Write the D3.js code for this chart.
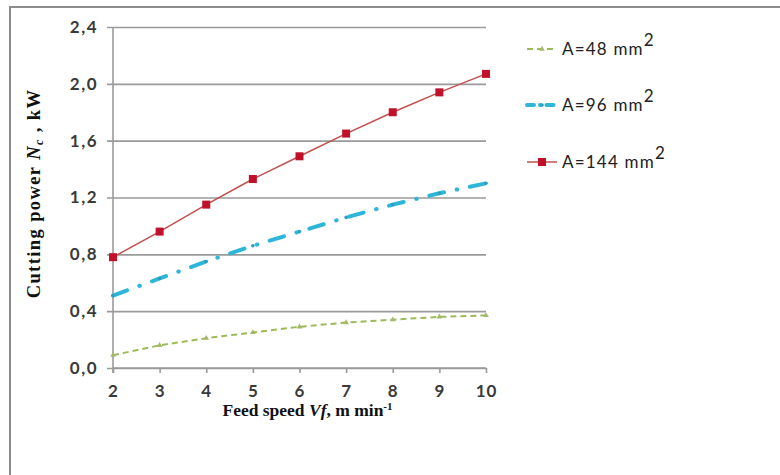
<!DOCTYPE html>
<html>
<head>
<meta charset="utf-8">
<script src="https://cdn.jsdelivr.net/npm/d3@7"></script>
<style>
  body { margin: 0; background: #fff; }
  svg { display: block; }
</style>
</head>
<body>
<div id="chart"></div>
<script>
var feedSpeed = [2, 3, 4, 5, 6, 7, 8, 9, 10];
var powerA48  = [0.09, 0.16, 0.21, 0.25, 0.29, 0.32, 0.34, 0.36, 0.37];
var powerA96  = [0.51, 0.63, 0.75, 0.86, 0.96, 1.06, 1.15, 1.23, 1.30];
var powerA144 = [0.78, 0.96, 1.15, 1.33, 1.49, 1.65, 1.80, 1.94, 2.07];
var yTicks = [0, 0.4, 0.8, 1.2, 1.6, 2.0, 2.4];
var seriesNames = ["A=48 mm", "A=96 mm", "A=144 mm"];

var W = 780, H = 475;
var margin = {top: 27, right: 294, bottom: 107, left: 113},
    width = W - margin.left - margin.right,
    height = H - margin.top - margin.bottom;

var sans = "Lato, Carlito, 'Open Sans', sans-serif";
var serif = "'Liberation Serif', 'DejaVu Serif', serif";

var svg = d3.select("#chart").append("svg")
    .attr("width", W)
    .attr("height", H);

// outer frame (right and bottom edges fall outside the picture)
svg.append("rect")
    .attr("x", 10).attr("y", 7)
    .attr("width", 820).attr("height", 520)
    .attr("fill", "none")
    .attr("stroke", "#8c8c8c")
    .attr("stroke-width", 2);

var g = svg.append("g")
    .attr("transform", "translate(" + margin.left + "," + margin.top + ")");

var x = d3.scaleLinear().domain([2, 10]).range([0, width]);
var y = d3.scaleLinear().domain([0, 2.4]).range([height, 0]);

var fmt = function(d) { return d3.format(".1f")(d).replace(".", ","); };

// gridlines + y axis
var yAxis = d3.axisLeft(y)
    .tickValues(yTicks)
    .tickSize(-width - 6)
    .tickPadding(9)
    .tickFormat(fmt);

var gy = g.append("g")
    .attr("transform", "translate(-6,0)")
    .call(yAxis);
gy.select(".domain").remove();
gy.selectAll(".tick line")
    .attr("stroke", "#9a9a9a")
    .attr("stroke-width", 1.6);
gy.selectAll(".tick text")
    .attr("x", -9)
    .attr("fill", "#3a3a3a")
    .style("font-family", sans)
    .style("font-size", "17px")
    .style("letter-spacing", "1.5px")
    .style("font-weight", "bold");

// vertical axis line
g.append("line")
    .attr("x1", 0).attr("x2", 0)
    .attr("y1", 0).attr("y2", height + 5)
    .attr("stroke", "#9a9a9a")
    .attr("stroke-width", 1.6);

// x axis
var xAxis = d3.axisBottom(x)
    .tickValues(feedSpeed)
    .tickSize(5)
    .tickPadding(12)
    .tickFormat(d3.format("d"));

var gx = g.append("g")
    .attr("transform", "translate(0," + height + ")")
    .call(xAxis);
gx.select(".domain")
    .attr("stroke", "#9a9a9a")
    .attr("stroke-width", 1.6)
    .attr("d", "M0,0H" + width);
gx.selectAll(".tick line")
    .attr("stroke", "#9a9a9a")
    .attr("stroke-width", 1.6);
gx.selectAll(".tick text")
    .attr("fill", "#3a3a3a")
    .style("font-family", sans)
    .style("font-size", "17px")
    .style("letter-spacing", "1px")
    .style("font-weight", "bold");

// series
var series = [
  {name: seriesNames[0], values: powerA48, color: "#9bbb59", width: 2, dash: "6,4", marker: "triangle"},
  {name: seriesNames[1], values: powerA96, color: "#2eb6d9", width: 4, dash: "15,13,0.5,13", marker: "dot"},
  {name: seriesNames[2], values: powerA144, color: "#c0504d", width: 1.5, dash: null, marker: "square"}
];

var line = d3.line()
    .x(function(d, i) { return x(feedSpeed[i]); })
    .y(function(d) { return y(d); });

function drawMarker(sel, s, cx, cy) {
  if (s.marker == "square") {
    sel.append("rect")
        .attr("x", cx - 4).attr("y", cy - 4)
        .attr("width", 8).attr("height", 8)
        .attr("fill", "#c0102a");
  } else if (s.marker == "triangle") {
    sel.append("path")
        .attr("d", d3.symbol().type(d3.symbolTriangle).size(14)())
        .attr("transform", "translate(" + cx + "," + cy + ")")
        .attr("fill", "#a6b86a");
  } else {
    sel.append("circle")
        .attr("cx", cx).attr("cy", cy).attr("r", 1.8)
        .attr("fill", "#2a9fbf");
  }
}

series.forEach(function(s) {
  g.append("path")
      .datum(s.values)
      .attr("fill", "none")
      .attr("stroke", s.color)
      .attr("stroke-width", s.width)
      .attr("stroke-dasharray", s.dash)
      .attr("stroke-linecap", s.marker == "dot" ? "round" : "butt")
      .attr("d", line);
  var mk = g.append("g");
  s.values.forEach(function(v, i) {
    drawMarker(mk, s, x(feedSpeed[i]), y(v));
  });
});

// legend
var legendY = [49, 105, 162];
var leg = svg.append("g");
series.forEach(function(s, i) {
  var ly = legendY[i];
  leg.append("line")
      .attr("x1", 527).attr("x2", 557)
      .attr("y1", ly).attr("y2", ly)
      .attr("stroke", s.color)
      .attr("stroke-width", s.width)
      .attr("stroke-linecap", s.marker == "dot" ? "round" : "butt")
      .attr("stroke-dasharray", s.marker == "dot" ? "7,6,0.5,6" : s.dash);
  drawMarker(leg, s, 542, ly);
  var t = leg.append("text")
      .attr("x", 562).attr("y", ly + 6)
      .attr("fill", "#222")
      .style("font-family", sans)
      .style("font-size", "17px")
      .style("letter-spacing", "1.2px");
  t.append("tspan").text(s.name);
  t.append("tspan").attr("dy", -9).style("font-size", "17px").text("2");
});

// axis titles
var yt = svg.append("text")
    .attr("transform", "translate(40," + (margin.top + height / 2 - 4) + ") rotate(-90)")
    .attr("text-anchor", "middle")
    .attr("fill", "#111")
    .style("font-family", serif)
    .style("font-size", "18.5px")
    .style("letter-spacing", "1.4px")
    .style("font-weight", "bold");
yt.append("tspan").text("Cutting power ");
yt.append("tspan").style("font-style", "italic").text("N");
yt.append("tspan").attr("dy", 3).style("font-size", "12px").style("font-style", "italic").text("c");
yt.append("tspan").attr("dy", -3).text(" , kW");

var xt = svg.append("text")
    .attr("x", margin.left + width / 2 + 8)
    .attr("y", 416)
    .attr("text-anchor", "middle")
    .attr("fill", "#111")
    .style("font-family", serif)
    .style("font-size", "17.5px")
    .style("font-weight", "bold");
xt.append("tspan").text("Feed speed ");
xt.append("tspan").style("font-style", "italic").text("Vf");
xt.append("tspan").text(", m min");
xt.append("tspan").attr("dy", -6).style("font-size", "11px").text("-1");
</script>
</body>
</html>
